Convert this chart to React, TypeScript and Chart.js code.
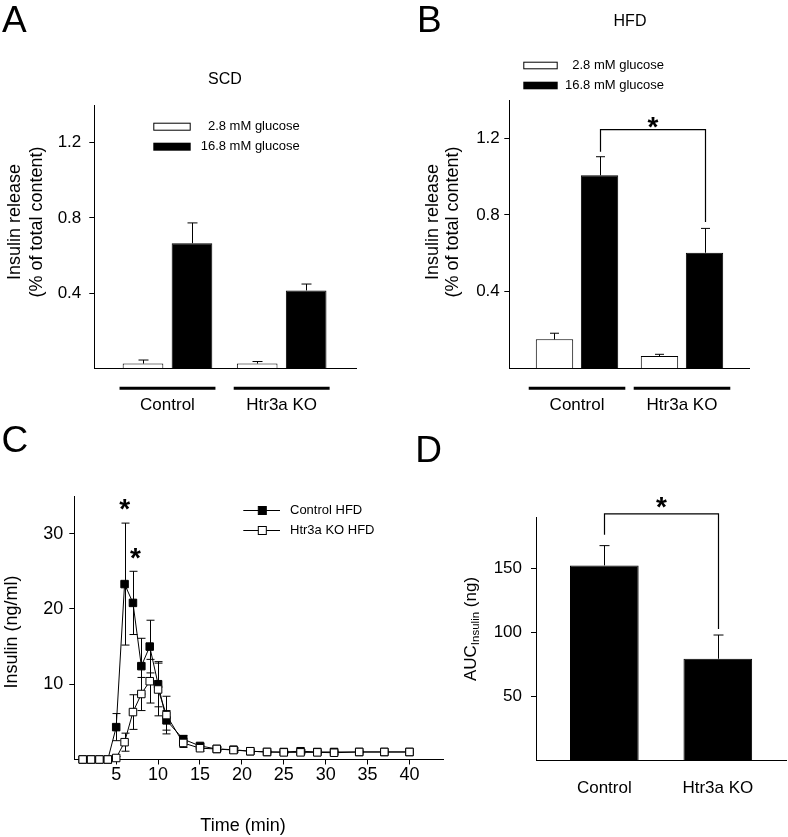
import React, { useEffect, useRef } from 'react';
import { Chart, registerables } from 'chart.js';
Chart.register(...registerables);

const FONT = '"Liberation Sans", Arial, Helvetica, sans-serif';
const W = 788;
const H = 837;

// ---------- Panels A / B ----------
const groups = ['Control', 'Htr3a KO'];
const seriesLabels = ['2.8 mM glucose', '16.8 mM glucose'];
const scdLow = [0.025, 0.025];
const scdLowErr = [0.019, 0.011];
const scdHigh = [0.665, 0.414];
const scdHighErr = [0.108, 0.034];
const hfdLow = [0.151, 0.064];
const hfdLowErr = [0.032, 0.009];
const hfdHigh = [1.007, 0.603];
const hfdHighErr = [0.097, 0.127];
const releaseTicks = [0.4, 0.8, 1.2];
const sigLevelB = 1.245;

// ---------- Panel C ----------
const timeMin = [1, 2, 3, 4, 5, 6, 7, 8, 9, 10, 11, 13, 15, 17, 19, 21, 23, 25, 27, 29, 31, 34, 37, 40];
const controlHFD = [0, 0, 0, 0, 4.3, 23.3, 20.8, 12.4, 15.0, 10.0, 5.2, 2.7, 1.8, 1.4, 1.3, 1.1, 1.0, 1.0, 1.1, 1.0, 1.0, 1.0, 1.0, 1.0];
const controlHFDErr = [0, 0, 0, 0, 1.8, 8.1, 4.2, 3.7, 3.5, 3.0, 1.3, 0.5, 0.3, 0.2, 0.2, 0.2, 0.1, 0.1, 0.2, 0.2, 0.1, 0.1, 0.1, 0.1];
const koHFD = [0, 0, 0, 0, 0.2, 2.3, 6.3, 8.7, 10.4, 9.3, 5.9, 2.2, 1.5, 1.4, 1.25, 1.1, 1.0, 0.95, 0.95, 0.95, 0.9, 1.0, 1.0, 1.0];
const koHFDErr = [0, 0, 0, 0, 0.2, 1.2, 2.3, 2.2, 2.9, 3.5, 2.5, 0.6, 0.4, 0.3, 0.3, 0.2, 0.1, 0.1, 0.2, 0.2, 0.2, 0.1, 0.1, 0.1];
const lineLabels = ['Control HFD', 'Htr3a KO HFD'];
const timeTicks = [5, 10, 15, 20, 25, 30, 35, 40];
const insulinTicks = [10, 20, 30];
const starTimes = [6, 7];

// ---------- Panel D ----------
const aucValues = [152.6, 79.4];
const aucErr = [15.5, 18.6];
const aucTicks = [50, 100, 150];
const sigLevelD = 193;

type Box = { l: number; t: number; r: number; b: number };

function layoutFor(box: Box, yW: number, xH: number) {
  return {
    autoPadding: false,
    padding: { left: box.l - yW, top: box.t, right: W - box.r, bottom: H - box.b - xH },
  };
}

function font(size: number, weight = 'normal') {
  return `${weight} ${size}px ${FONT}`;
}

function text(ctx: any, s: string, x: number, y: number, size: number, align = 'left', baseline = 'alphabetic', weight = 'normal') {
  ctx.save();
  ctx.fillStyle = '#000';
  ctx.font = font(size, weight);
  ctx.textAlign = align;
  ctx.textBaseline = baseline;
  ctx.fillText(s, x, y);
  ctx.restore();
}

function vtext(ctx: any, s: string, cx: number, cy: number, size: number) {
  ctx.save();
  ctx.translate(cx, cy);
  ctx.rotate(-Math.PI / 2);
  ctx.fillStyle = '#000';
  ctx.font = font(size);
  ctx.textAlign = 'center';
  ctx.textBaseline = 'middle';
  ctx.fillText(s, 0, 0);
  ctx.restore();
}

function star(ctx: any, cx: number, cy: number, size = 28) {
  text(ctx, '*', cx, cy + 0.58 * size, size, 'center', 'alphabetic', 'bold');
}

function yScaleOpts(min: number, max: number, ticks: number[], width: number, size: number, pad: number, fmt: (v: number) => string) {
  return {
    type: 'linear',
    min,
    max,
    afterBuildTicks: (s: any) => {
      s.ticks = ticks.map((v) => ({ value: v }));
    },
    afterFit: (s: any) => {
      s.width = width;
    },
    border: { display: true, color: '#000', width: 1 },
    grid: { display: true, drawOnChartArea: false, drawTicks: true, tickLength: 5, tickColor: '#000', tickWidth: 1 },
    ticks: { color: '#000', font: { family: FONT, size }, padding: pad, callback: (v: any) => fmt(Number(v)) },
  };
}

function xBarScale(min: number, max: number) {
  return {
    type: 'linear',
    min,
    max,
    offset: false,
    afterBuildTicks: (s: any) => {
      s.ticks = groups.map((_, i) => ({ value: i + 1 }));
    },
    afterFit: (s: any) => {
      s.height = 10;
    },
    border: { display: true, color: '#000', width: 1 },
    grid: { display: false, offset: false },
    ticks: { display: false },
  };
}

function barErrorPlugin(errs: number[][], capW: number) {
  return {
    id: 'barErr',
    afterDatasetsDraw(chart: any) {
      const ctx = chart.ctx;
      const ys = chart.scales.y;
      ctx.save();
      ctx.strokeStyle = '#000';
      ctx.lineWidth = 1;
      errs.forEach((arr, d) => {
        const meta = chart.getDatasetMeta(d);
        meta.data.forEach((el: any, i: number) => {
          const v = chart.data.datasets[d].data[i].y;
          const top = ys.getPixelForValue(v + arr[i]);
          const x = Math.round(el.x) + 0.5;
          ctx.beginPath();
          ctx.moveTo(x, el.y);
          ctx.lineTo(x, top);
          ctx.moveTo(x - capW / 2, top);
          ctx.lineTo(x + capW / 2, top);
          ctx.stroke();
        });
      });
      ctx.restore();
    },
  };
}

function drawGroups(chart: any, lineY: number, labelY: number, half: number, size: number) {
  const ctx = chart.ctx;
  const xs = chart.scales.x;
  ctx.save();
  ctx.strokeStyle = '#000';
  ctx.lineWidth = 3;
  groups.forEach((_, i) => {
    const a = xs.getPixelForValue(i + 1 - half);
    const b = xs.getPixelForValue(i + 1 + half);
    ctx.beginPath();
    ctx.moveTo(a, lineY);
    ctx.lineTo(b, lineY);
    ctx.stroke();
  });
  ctx.restore();
  groups.forEach((g, i) => text(ctx, g, xs.getPixelForValue(i + 1), labelY, size, 'center', 'middle'));
}

function drawBarLegend(ctx: any, x: number, y0: number, y1: number, bw: number, bh: number, textRight: number, size: number) {
  ctx.save();
  ctx.lineWidth = 1;
  ctx.strokeStyle = '#000';
  ctx.fillStyle = '#fff';
  ctx.fillRect(x, y0, bw, bh);
  ctx.strokeRect(x + 0.5, y0 + 0.5, bw - 1, bh - 1);
  ctx.fillStyle = '#000';
  ctx.fillRect(x, y1, bw, bh);
  ctx.restore();
  text(ctx, seriesLabels[0], textRight, y0 + bh / 2, size, 'right', 'middle');
  text(ctx, seriesLabels[1], textRight, y1 + bh / 2, size, 'right', 'middle');
}

function drawBracket(chart: any, xa: number, xb: number, level: number, endA: number, endB: number, starDy: number) {
  const ctx = chart.ctx;
  const ys = chart.scales.y;
  const yl = ys.getPixelForValue(level);
  ctx.save();
  ctx.strokeStyle = '#000';
  ctx.lineWidth = 1.2;
  ctx.beginPath();
  ctx.moveTo(xa, endA);
  ctx.lineTo(xa, yl);
  ctx.lineTo(xb, yl);
  ctx.lineTo(xb, endB);
  ctx.stroke();
  ctx.restore();
  star(ctx, (xa + xb) / 2, yl - starDy);
}

function barDatasets(low: number[], high: number[]) {
  const common = { borderColor: '#000', borderWidth: 1, categoryPercentage: 0.858, barPercentage: 0.83 };
  return [
    { label: seriesLabels[0], data: groups.map((_, i) => ({ x: i + 1, y: low[i] })), backgroundColor: '#fff', ...common },
    { label: seriesLabels[1], data: groups.map((_, i) => ({ x: i + 1, y: high[i] })), backgroundColor: '#000', ...common },
  ];
}

const baseOpts = {
  animation: false,
  responsive: false,
  maintainAspectRatio: false,
  events: [],
  plugins: { legend: { display: false }, tooltip: { enabled: false }, title: { display: false } },
};

function makeA() {
  const box = { l: 94.3, t: 105, r: 356, b: 368.3 };
  return {
    type: 'bar',
    data: { datasets: barDatasets(scdLow, scdHigh) },
    options: {
      ...baseOpts,
      layout: layoutFor(box, 50, 10),
      scales: {
        x: xBarScale(0.359, 2.651),
        y: yScaleOpts(0, 1.4, releaseTicks, 50, 17, 8, (v) => v.toFixed(1)),
      },
    },
    plugins: [
      barErrorPlugin([scdLowErr, scdHighErr], 10),
      {
        id: 'decoA',
        afterDraw(chart: any) {
          const ctx = chart.ctx;
          text(ctx, 'A', 2, 31.7, 37);
          text(ctx, 'SCD', 225, 83.5, 16, 'center');
          vtext(ctx, 'Insulin release', 15, 222, 18);
          vtext(ctx, '(% of total content)', 36.7, 222, 18);
          drawBarLegend(ctx, 153.3, 122.7, 142.7, 37.4, 8, 299.7, 13);
          drawGroups(chart, 388.3, 405.7, 0.42, 17);
        },
      },
    ],
  };
}

function makeB() {
  const box = { l: 509.3, t: 100, r: 749.3, b: 368.3 };
  return {
    type: 'bar',
    data: { datasets: barDatasets(hfdLow, hfdHigh) },
    options: {
      ...baseOpts,
      layout: layoutFor(box, 50, 10),
      scales: {
        x: xBarScale(0.355, 2.641),
        y: yScaleOpts(0, 1.4, releaseTicks, 50, 17, 4.5, (v) => v.toFixed(1)),
      },
    },
    plugins: [
      barErrorPlugin([hfdLowErr, hfdHighErr], 9),
      {
        id: 'decoB',
        afterDraw(chart: any) {
          const ctx = chart.ctx;
          const ys = chart.scales.y;
          text(ctx, 'B', 417, 31.7, 37);
          text(ctx, 'HFD', 630, 26, 16, 'center');
          vtext(ctx, 'Insulin release', 433.3, 222, 18);
          vtext(ctx, '(% of total content)', 453.3, 222, 18);
          drawBarLegend(ctx, 523.3, 61.7, 81.7, 34.4, 7.6, 664, 13);
          drawGroups(chart, 388.3, 405, 0.46, 17);
          const meta = chart.getDatasetMeta(1);
          const xa = Math.round(meta.data[0].x) + 0.5;
          const xb = Math.round(meta.data[1].x) + 0.5;
          const ea = ys.getPixelForValue(hfdHigh[0] + hfdHighErr[0]) - 5;
          const eb = ys.getPixelForValue(hfdHigh[1] + hfdHighErr[1]) - 6.5;
          drawBracket(chart, xa, xb, sigLevelB, ea, eb, 10);
        },
      },
    ],
  };
}

function makeC() {
  const box = { l: 74.3, t: 496, r: 443, b: 759.5 };
  const common = {
    borderColor: '#000',
    borderWidth: 1,
    pointStyle: 'rect',
    pointRadius: 5.3,
    pointBorderColor: '#000',
    pointBorderWidth: 1,
    tension: 0,
    clip: false,
  };
  const errs = [controlHFDErr, koHFDErr];
  const vals = [controlHFD, koHFD];
  return {
    type: 'line',
    data: {
      datasets: [
        { label: lineLabels[0], data: timeMin.map((t, i) => ({ x: t, y: controlHFD[i] })), pointBackgroundColor: '#000', order: 1, ...common },
        { label: lineLabels[1], data: timeMin.map((t, i) => ({ x: t, y: koHFD[i] })), pointBackgroundColor: '#fff', order: 0, ...common },
      ],
    },
    options: {
      ...baseOpts,
      layout: layoutFor(box, 50, 30),
      scales: {
        x: {
          type: 'linear',
          min: 0,
          max: 44,
          afterBuildTicks: (s: any) => {
            s.ticks = timeTicks.map((v) => ({ value: v }));
          },
          afterFit: (s: any) => {
            s.height = 30;
          },
          border: { display: true, color: '#000', width: 1 },
          grid: { display: true, drawOnChartArea: false, drawTicks: true, tickLength: 5, tickColor: '#000' },
          ticks: { color: '#000', font: { family: FONT, size: 18 }, padding: 0, maxRotation: 0, autoSkip: false },
        },
        y: yScaleOpts(0, 35, insulinTicks, 50, 18, 6, (v) => String(v)),
      },
    },
    plugins: [
      {
        id: 'errC',
        beforeDatasetsDraw(chart: any) {
          const ctx = chart.ctx;
          const xs = chart.scales.x;
          const ys = chart.scales.y;
          ctx.save();
          ctx.strokeStyle = '#000';
          ctx.lineWidth = 1;
          errs.forEach((arr, d) => {
            timeMin.forEach((t, i) => {
              if (!arr[i]) return;
              const x = Math.round(xs.getPixelForValue(t)) + 0.5;
              const hi = ys.getPixelForValue(vals[d][i] + arr[i]);
              const lo = ys.getPixelForValue(Math.max(0, vals[d][i] - arr[i]));
              ctx.beginPath();
              ctx.moveTo(x, lo);
              ctx.lineTo(x, hi);
              ctx.moveTo(x - 4, hi);
              ctx.lineTo(x + 4, hi);
              ctx.moveTo(x - 4, lo);
              ctx.lineTo(x + 4, lo);
              ctx.stroke();
            });
          });
          ctx.restore();
        },
        afterDraw(chart: any) {
          const ctx = chart.ctx;
          const xs = chart.scales.x;
          const ys = chart.scales.y;
          text(ctx, 'C', 1.5, 451.7, 37);
          vtext(ctx, 'Insulin (ng/ml)', 11.7, 632, 18);
          text(ctx, 'Time (min)', 243, 826, 18, 'center', 'middle');
          // legend
          const ly = [510, 530];
          const fills = ['#000', '#fff'];
          ly.forEach((y, k) => {
            ctx.save();
            ctx.strokeStyle = '#000';
            ctx.lineWidth = 1;
            ctx.beginPath();
            ctx.moveTo(243.3, y + 0.5);
            ctx.lineTo(280, y + 0.5);
            ctx.stroke();
            ctx.fillStyle = fills[k];
            ctx.fillRect(258.3, y - 3.5, 8, 8);
            ctx.strokeRect(258.3, y - 3.5, 8, 8);
            ctx.restore();
            text(ctx, lineLabels[k], 290, y + 0.5, 13, 'left', 'middle');
          });
          starTimes.forEach((t, k) => {
            const i = timeMin.indexOf(t);
            star(ctx, xs.getPixelForValue(t) + k * 2.5, ys.getPixelForValue(controlHFD[i] + controlHFDErr[i]) - 21);
          });
        },
      },
    ],
  };
}

function makeD() {
  const box = { l: 536, t: 517.7, r: 786.7, b: 760 };
  return {
    type: 'bar',
    data: {
      datasets: [
        {
          label: 'AUC',
          data: groups.map((_, i) => ({ x: i + 1, y: aucValues[i] })),
          backgroundColor: '#000',
          borderColor: '#000',
          borderWidth: 1,
          categoryPercentage: 1,
          barPercentage: 0.605,
        },
      ],
    },
    options: {
      ...baseOpts,
      layout: layoutFor(box, 50, 10),
      scales: {
        x: xBarScale(0.398, 2.607),
        y: yScaleOpts(0, 190, aucTicks, 50, 17, 9, (v) => String(v)),
      },
    },
    plugins: [
      barErrorPlugin([aucErr], 10),
      {
        id: 'decoD',
        afterDraw(chart: any) {
          const ctx = chart.ctx;
          const xs = chart.scales.x;
          const ys = chart.scales.y;
          text(ctx, 'D', 415.3, 461.7, 37);
          // y title with subscript
          ctx.save();
          ctx.translate(471.7, 629);
          ctx.rotate(-Math.PI / 2);
          ctx.fillStyle = '#000';
          ctx.textBaseline = 'middle';
          ctx.textAlign = 'left';
          const parts: [string, number, number][] = [
            ['AUC', 17, 0],
            ['Insulin', 11.5, 4],
            [' (ng)', 17, 0],
          ];
          let total = 0;
          parts.forEach(([s, sz]) => {
            ctx.font = font(sz);
            total += ctx.measureText(s).width;
          });
          let cx = -total / 2;
          parts.forEach(([s, sz, dy]) => {
            ctx.font = font(sz);
            ctx.fillText(s, cx, dy);
            cx += ctx.measureText(s).width;
          });
          ctx.restore();
          groups.forEach((g, i) => text(ctx, g, xs.getPixelForValue(i + 1), 788.3, 17, 'center', 'middle'));
          const meta = chart.getDatasetMeta(0);
          const xa = Math.round(meta.data[0].x) + 0.5;
          const xb = Math.round(meta.data[1].x) + 0.5;
          const ea = ys.getPixelForValue(aucValues[0] + aucErr[0]) - 11;
          const eb = ys.getPixelForValue(aucValues[1] + aucErr[1]) - 6;
          drawBracket(chart, xa, xb, sigLevelD, ea, eb, 14);
        },
      },
    ],
  };
}

function ChartCanvas({ make }: { make: () => any }) {
  const ref = useRef<HTMLCanvasElement>(null);
  useEffect(() => {
    const c = new Chart(ref.current as HTMLCanvasElement, make());
    return () => c.destroy();
  }, []);
  return (
    <canvas
      ref={ref}
      width={W}
      height={H}
      style={{ position: 'absolute', left: 0, top: 0, width: W, height: H }}
    />
  );
}

export default function App() {
  useEffect(() => {
    document.body.style.margin = '0';
  }, []);
  return (
    <div style={{ position: 'absolute', left: 0, top: 0, width: W, height: H, background: '#fff', overflow: 'hidden' }}>
      <ChartCanvas make={makeA} />
      <ChartCanvas make={makeB} />
      <ChartCanvas make={makeC} />
      <ChartCanvas make={makeD} />
    </div>
  );
}
